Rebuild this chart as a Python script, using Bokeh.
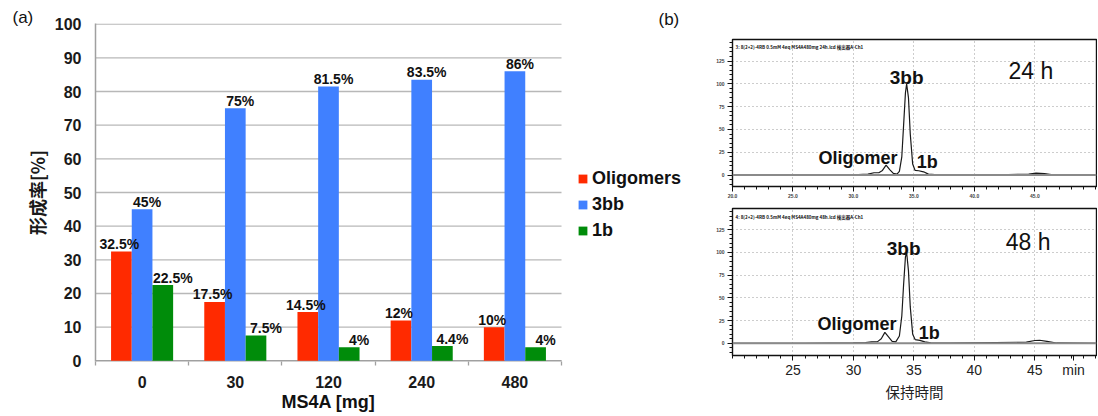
from bokeh.plotting import figure
from bokeh.models import (ColumnDataSource, LabelSet, Label, Legend, LegendItem, Title,
                          FixedTicker, Range1d, Span, NumeralTickFormatter)
from bokeh.layouts import row, column
from bokeh.transform import dodge
from bokeh.embed import file_html
from bokeh.resources import INLINE
from bokeh.core.properties import value

# ---------------- data ----------------
categories = ["0", "30", "120", "240", "480"]
oligomers = [32.5, 17.5, 14.5, 12, 10]
bb3 = [45, 75, 81.5, 83.5, 86]
b1 = [22.5, 7.5, 4, 4.4, 4]
series_names = ["Oligomers", "3bb", "1b"]
y_ticks = [0, 10, 20, 30, 40, 50, 60, 70, 80, 90, 100]

# chromatogram traces (retention time [min], relative intensity)
t24_x = [20.0, 26.0, 30.0, 31.2, 31.7, 32.1, 32.4, 32.7, 33.0, 33.3, 33.6, 33.8, 34.0, 34.15,
         34.3, 34.4, 34.55, 34.7, 34.9, 35.1, 35.4, 35.8, 36.2, 37.0, 42.0, 44.5, 45.1, 45.8,
         46.5, 50.1]
t24_y = [0, 0, 0.3, 1, 2.5, 2.5, 5, 10.8, 6, 1.8, 1, 4, 20, 55,
         90, 100, 85, 45, 12, 5, 4.7, 3.5, 1, 0.3, 0.2, 1, 2, 1.5,
         0.3, 0]
t48_x = [20.0, 26.0, 30.0, 31.0, 31.5, 32.0, 32.3, 32.6, 32.9, 33.2, 33.5, 33.8, 34.0, 34.15,
         34.3, 34.4, 34.55, 34.7, 34.9, 35.1, 35.5, 35.9, 36.4, 38.0, 44.3, 45.0, 45.4, 46.0,
         46.8, 50.1]
t48_y = [0, 0, 0.3, 0.8, 1.5, 1.8, 5, 12, 7, 2, 1.5, 8, 30, 65,
         95, 100, 80, 40, 10, 4, 3.2, 1.5, 0.4, 0.2, 1.2, 3, 3.3, 2,
         0.3, 0]
chrom_x_ticks = [20, 25, 30, 35, 40, 45]
chrom_x_ticks_b = [25, 30, 35, 40, 45]
chrom_x_labels_b = {25: "25", 30: "30", 35: "35", 40: "40", 45: "45", 48.2: "min"}
chrom_y_ticks = [0, 25, 50, 75, 100, 125]
header24 = "3: 8(2+2)-4RB 0.5mM 4eq MS4A480mg 24h.lcd 検出器A-Ch1"
header48 = "4: 8(2+2)-4RB 0.5mM 4eq MS4A480mg 48h.lcd 検出器A-Ch1"

FONT = "Liberation Sans"
CJK = "Noto Sans CJK JP"
RED, BLUE, GREEN = "#ff2a00", "#4080ff", "#008c0a"
GRID = "#b8b8b8"
AXIS = "#a0a0a0"

# ---------------- (a) bar chart ----------------
n = len(categories)
centers = [i + 0.5 for i in range(n)]
src = ColumnDataSource(dict(
    x=centers, olig=oligomers, bb=bb3, b1=b1,
    olig_l=[f"{v:g}%" for v in oligomers],
    bb_l=[f"{v:g}%" for v in bb3],
    b1_l=[f"{v:g}%" for v in b1],
))

W1, ML1 = 700, 95
X_END = n * (W1 - ML1) / 466.0   # bar area is 466 px wide, the rest holds the legend
p1 = figure(width=W1, height=415, x_range=Range1d(0, X_END), y_range=Range1d(-0.2, 100.2),
            output_backend="svg", toolbar_location=None,
            min_border_left=ML1, min_border_right=0, min_border_top=23, min_border_bottom=54)
p1.title = Title(text="(a)", align="left", offset=-83, standoff=-28,
                 text_font=FONT, text_font_size="17px", text_font_style="normal",
                 text_color="#111111")
p1.add_layout(Title(text="(b)", align="left", offset=563, standoff=-10,
                    text_font=FONT, text_font_size="17px", text_font_style="normal",
                    text_color="#111111"), "above")
p1.add_layout(Title(text="MS4A [mg]", align="left", offset=186, standoff=2,
                    vertical_align="top",
                    text_font=FONT, text_font_size="18px", text_font_style="bold",
                    text_color="#111111"), "below")
p1.outline_line_color = None
p1.xgrid.visible = False
p1.ygrid.visible = False

# horizontal grid lines and x-axis line only across the bar area
p1.segment(x0=[0] * len(y_ticks), x1=[n] * len(y_ticks), y0=y_ticks, y1=y_ticks,
           line_color=GRID, line_width=1.3)
p1.segment(x0=[0], x1=[n], y0=[0], y1=[0], line_color=AXIS, line_width=1.6)

BW = 0.222
cols = [("olig", "olig_l", RED, -BW, -2), ("bb", "bb_l", BLUE, 0.0, 5), ("b1", "b1_l", GREEN, BW, 10)]
renderers = []
for (col, lcol, color, off, xo) in cols:
    r = p1.vbar(x=dodge("x", off, range=p1.x_range), top=col, width=BW, source=src,
                fill_color=color, line_color=None)
    renderers.append(r)
    p1.add_layout(LabelSet(x=dodge("x", off, range=p1.x_range), y=col, text=lcol, source=src,
                           text_align="center", text_baseline="alphabetic",
                           x_offset=xo, y_offset=2.5,
                           text_font=value(FONT), text_font_style="bold",
                           text_font_size="14px", text_color="#111111"))

xa = p1.xaxis[0]
xa.ticker = FixedTicker(ticks=centers, minor_ticks=list(range(n + 1)))
xa.major_label_overrides = {c: cat for c, cat in zip(centers, categories)}
xa.major_tick_line_color = None
xa.minor_tick_line_color = AXIS
xa.minor_tick_line_width = 1.3
xa.minor_tick_out = 4
xa.minor_tick_in = 0
xa.axis_line_color = None
xa.major_label_text_font = FONT
xa.major_label_text_font_style = "bold"
xa.major_label_text_font_size = "16px"
xa.major_label_text_color = "#1a1a1a"
xa.major_label_standoff = 8

ya = p1.yaxis[0]
ya.ticker = FixedTicker(ticks=y_ticks, minor_ticks=[])
ya.major_tick_line_color = None
ya.minor_tick_line_color = None
ya.axis_line_color = AXIS
ya.axis_line_width = 1.5
ya.major_label_text_font = FONT
ya.major_label_text_font_style = "bold"
ya.major_label_text_font_size = "16px"
ya.major_label_text_color = "#1a1a1a"
ya.major_label_standoff = 8
ya.axis_label = "形成率[%]"
ya.axis_label_text_font = CJK
ya.axis_label_text_font_style = "bold"
ya.axis_label_text_font_size = "18px"
ya.axis_label_text_color = "#1a1a1a"
ya.axis_label_standoff = 2

legend = Legend(items=[LegendItem(label=nm, renderers=[r]) for nm, r in zip(series_names, renderers)],
                location=(482, 120), padding=0, margin=0, border_line_color=None,
                background_fill_alpha=0, glyph_width=11, glyph_height=11, label_standoff=4,
                spacing=4, label_height=22, label_text_font=FONT, label_text_font_style="bold",
                label_text_font_size="18px", label_text_color="#111111")
p1.add_layout(legend, "center")


# ---------------- (b) chromatograms ----------------
def chrom(height, yr, mbl, mbt, mbb, tx, ty, xticks):
    p = figure(width=397, height=height, x_range=Range1d(20, 50.1), y_range=Range1d(*yr),
               output_backend="svg", toolbar_location=None,
               min_border_left=mbl, min_border_right=1, min_border_top=mbt, min_border_bottom=mbb)
    p.outline_line_color = "#111111"
    p.outline_line_width = 1.4
    for g in (p.xgrid, p.ygrid):
        g.grid_line_color = "#9a9a9a"
        g.grid_line_dash = "1 3"
        g.grid_line_width = 1
    p.add_layout(Span(location=0, dimension="width", line_color="#8a8a8a", line_width=2))
    p.line(tx, ty, line_color="#1a1a1a", line_width=1.2)
    xa = p.xaxis[0]
    xa.ticker = FixedTicker(ticks=xticks, minor_ticks=list(range(20, 51)))
    p.xgrid.ticker = FixedTicker(ticks=chrom_x_ticks)
    ya = p.yaxis[0]
    ya.ticker = FixedTicker(ticks=chrom_y_ticks, minor_ticks=list(range(-10, 150, 5)))
    for a in (xa, ya):
        a.axis_line_color = "#111111"
        a.major_tick_line_color = "#111111"
        a.minor_tick_line_color = "#111111"
        a.major_tick_out = 5
        a.major_tick_in = 0
        a.minor_tick_out = 3
        a.minor_tick_in = 0
    ya.major_label_text_font = FONT
    ya.major_label_text_font_style = "bold"
    ya.major_label_text_font_size = "5px"
    ya.major_label_standoff = 3
    return p, xa, ya


p2, xa2, ya2 = chrom(200, (-12.6, 148.7), 31, 39, 12, t24_x, t24_y, chrom_x_ticks)
xa2.formatter = NumeralTickFormatter(format="0.0")
xa2.major_label_text_font = FONT
xa2.major_label_text_font_style = "bold"
xa2.major_label_text_font_size = "5px"
xa2.major_label_standoff = 2

p3, xa3, ya3 = chrom(215, (-13.5, 148.4), 32, 8, 60, t48_x, t48_y,
                     chrom_x_ticks_b + [48.2])
xa3.major_label_overrides = chrom_x_labels_b
xa3.major_label_text_font = FONT
xa3.major_label_text_font_size = "14px"
xa3.major_label_text_color = "#222222"
xa3.major_label_standoff = 1
xa3.axis_label = "保持時間"
xa3.axis_label_text_font = CJK
xa3.axis_label_text_font_style = "normal"
xa3.axis_label_text_font_size = "14.5px"
xa3.axis_label_text_color = "#222222"
xa3.axis_label_standoff = 0


def ann(p, x, y, text, size, bold=True, align="left", baseline="alphabetic", font=FONT):
    p.add_layout(Label(x=x, y=y, x_units="screen", y_units="screen", text=text,
                       text_font=font, text_font_style="bold" if bold else "normal",
                       text_font_size=size, text_align=align, text_baseline=baseline,
                       text_color="#111111"))


ann(p2, 3, 139.3, header24, "4.5px", baseline="middle", font=CJK)
ann(p2, 276, 115.3, "24 h", "23px", bold=False)
ann(p2, 157.3, 109, "3bb", "19px")
ann(p2, 86, 28.6, "Oligomer", "18px")
ann(p2, 184.3, 24.3, "1b", "18px")

ann(p3, 3, 138.3, header48, "4.5px", baseline="middle", font=CJK)
ann(p3, 273.3, 113.3, "48 h", "23px", bold=False)
ann(p3, 154.3, 107, "3bb", "19px")
ann(p3, 85, 32, "Oligomer", "18px")
ann(p3, 186.3, 23, "1b", "18px")

layout = row(p1, column(p2, p3))
open("out.html", "w").write(file_html(layout, INLINE))
